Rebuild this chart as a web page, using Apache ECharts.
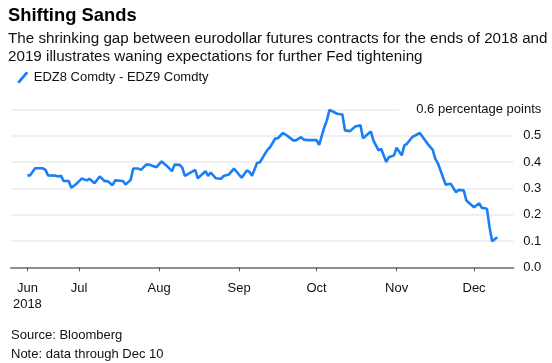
<!DOCTYPE html>
<html>
<head>
<meta charset="utf-8">
<script src="https://cdn.jsdelivr.net/npm/echarts@6/dist/echarts.min.js"></script>
<style>
html,body{margin:0;padding:0;background:#fff;}
#chart{width:552px;height:363px;}
</style>
</head>
<body>
<div id="chart"></div>
<script>
var dates = ['2018-06-11','2018-06-12','2018-06-14','2018-06-17','2018-06-18','2018-06-19','2018-06-22','2018-06-23','2018-06-24','2018-06-25','2018-06-27','2018-06-28','2018-06-30',
'2018-07-02','2018-07-04','2018-07-05','2018-07-07','2018-07-09','2018-07-11','2018-07-12','2018-07-14','2018-07-15','2018-07-18','2018-07-19','2018-07-21','2018-07-22','2018-07-24','2018-07-25','2018-07-27','2018-07-28','2018-07-31',
'2018-08-02','2018-08-04','2018-08-06','2018-08-07','2018-08-09','2018-08-10','2018-08-11','2018-08-15','2018-08-16','2018-08-19','2018-08-20','2018-08-21','2018-08-23','2018-08-25','2018-08-26','2018-08-28','2018-08-30',
'2018-09-02','2018-09-04','2018-09-05','2018-09-06','2018-09-08','2018-09-09','2018-09-11','2018-09-12','2018-09-13','2018-09-15','2018-09-16','2018-09-18','2018-09-19','2018-09-22','2018-09-23','2018-09-25','2018-09-26','2018-09-28',
'2018-10-01','2018-10-02','2018-10-04','2018-10-05','2018-10-06','2018-10-09','2018-10-11','2018-10-12','2018-10-14','2018-10-16','2018-10-18','2018-10-19','2018-10-22','2018-10-23','2018-10-25','2018-10-26','2018-10-28','2018-10-29','2018-10-31',
'2018-11-01','2018-11-03','2018-11-04','2018-11-05','2018-11-07','2018-11-10','2018-11-13','2018-11-15','2018-11-16','2018-11-17','2018-11-20','2018-11-22','2018-11-24','2018-11-25','2018-11-27','2018-11-28',
'2018-12-01','2018-12-03','2018-12-04','2018-12-06','2018-12-07','2018-12-08','2018-12-10'];
var spread = [0.349,0.349,0.376,0.376,0.370,0.349,0.348,0.345,0.348,0.328,0.328,0.302,0.317,
0.337,0.330,0.336,0.319,0.345,0.327,0.328,0.312,0.330,0.328,0.314,0.332,0.375,0.375,0.370,0.390,0.390,0.380,
0.402,0.385,0.365,0.390,0.389,0.378,0.347,0.370,0.338,0.365,0.347,0.360,0.338,0.336,0.347,0.352,0.375,
0.340,0.368,0.362,0.348,0.397,0.398,0.431,0.446,0.456,0.489,0.490,0.510,0.504,0.482,0.482,0.494,0.485,0.483,
0.483,0.465,0.532,0.558,0.598,0.583,0.580,0.520,0.517,0.535,0.539,0.490,0.516,0.482,0.444,0.450,0.400,0.418,0.425,
0.454,0.425,0.463,0.469,0.494,0.510,0.469,0.446,0.412,0.395,0.314,0.317,0.285,0.294,0.292,0.254,
0.228,0.243,0.226,0.222,0.152,0.099,0.114];
var tickDates = ['2018-06-11','2018-07-01','2018-08-01','2018-09-01','2018-10-01','2018-11-01','2018-12-01'];
var tickLabels = ['Jun\n2018','Jul','Aug','Sep','Oct','Nov','Dec'];
var yTicks = [0, 0.1, 0.2, 0.3, 0.4, 0.5, 0.6];
var seriesName = 'EDZ8 Comdty - EDZ9 Comdty';

var DAY = 86400000;
function ts(s){ var p = s.split('-'); return Date.UTC(+p[0], +p[1]-1, +p[2]); }
var tickTs = tickDates.map(ts);
var labelMap = {};
tickTs.forEach(function(t,i){ labelMap[t] = tickLabels[i]; });
var startTs = ts(dates[0]);
var lineData = dates.map(function(d,i){ return [ts(d), spread[i]]; });

var FONT = '"Liberation Sans", Arial, Helvetica, sans-serif';
var BLUE = '#1a7ff5';

var chart = echarts.init(document.getElementById('chart'), null, {renderer:'canvas'});
chart.setOption({
  animation: false,
  textStyle: {fontFamily: FONT},
  title: [
    {text: 'Shifting Sands', left: 3, top: 2,
     textStyle: {fontFamily: FONT, fontSize: 18.4, fontWeight: 'bold', color: '#000'}},
    {text: 'The shrinking gap between eurodollar futures contracts for the ends of 2018 and\n2019 illustrates waning expectations for further Fed tightening',
     left: 3, top: 25,
     textStyle: {fontFamily: FONT, fontSize: 15.2, fontWeight: 'normal', color: '#111', lineHeight: 18}},
    {text: 'Source: Bloomberg\nNote: data through Dec 10', left: 6, top: 321,
     textStyle: {fontFamily: FONT, fontSize: 13, fontWeight: 'normal', color: '#111', lineHeight: 19}}
  ],
  legend: {
    left: 12, top: 66, itemWidth: 12, itemHeight: 12, itemGap: 4,
    icon: 'path://M0,11 L9.5,0 L12,1.6 L2.5,12.6 Z',
    textStyle: {fontFamily: FONT, fontSize: 13, color: '#111'},
    data: [seriesName]
  },
  grid: {left: 11, right: 38.7, top: 109.3, bottom: 95.7, containLabel: false},
  xAxis: {
    type: 'value',
    min: startTs - 6.35*DAY,
    max: startTs + 188.2*DAY,
    splitLine: {show: false},
    axisLine: {show: true, lineStyle: {color: '#8f8f8f', width: 2}},
    axisTick: {show: true, customValues: tickTs, length: 4, lineStyle: {color: '#555', width: 1}},
    axisLabel: {
      customValues: tickTs, margin: 13, color: '#111', fontSize: 13, fontFamily: FONT, lineHeight: 16,
      formatter: function(v){ return labelMap[v] || ''; }
    }
  },
  yAxis: {
    type: 'value', position: 'right', min: 0, max: 0.6, interval: 0.1,
    axisLine: {show: false}, axisTick: {show: false},
    splitLine: {show: true, lineStyle: {color: '#ebebeb', width: 1.5}},
    axisLabel: {
      margin: 28, align: 'right', color: '#111', fontSize: 13, fontFamily: FONT,
      formatter: function(v){
        var s = v.toFixed(1);
        if (Math.abs(v - yTicks[yTicks.length-1]) < 1e-9) return '{top|' + s + ' percentage points}';
        return s;
      },
      rich: {top: {fontSize: 13, fontFamily: FONT, color: '#111', backgroundColor: '#fff', padding: [3,0,3,17]}}
    }
  },
  series: [{
    name: seriesName, type: 'line', data: lineData, showSymbol: false, symbol: 'none',
    lineStyle: {color: BLUE, width: 2.6}, itemStyle: {color: BLUE}, z: 3
  }]
});
</script>
</body>
</html>
